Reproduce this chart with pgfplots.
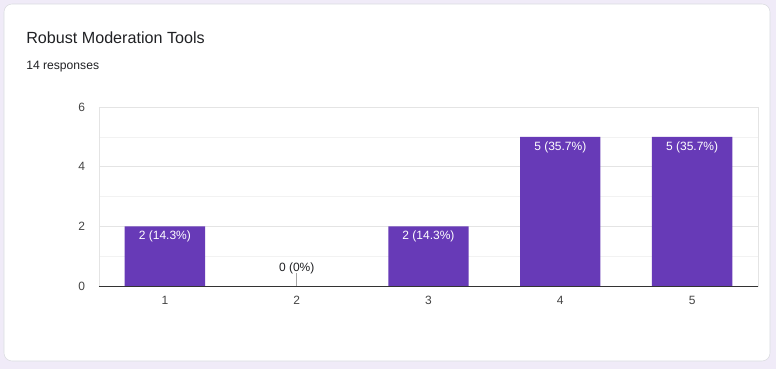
\documentclass[border=0pt]{standalone}
\usepackage{pgfplots}
\pgfplotsset{compat=1.18}
\usepackage{fontspec}
\setmainfont{Liberation Sans}
\definecolor{barc}{HTML}{673AB7}
\definecolor{pagebg}{HTML}{F0EBF8}
\definecolor{cardborder}{HTML}{DADCE0}
\definecolor{gridmaj}{HTML}{E4E4E4}
\definecolor{gridmin}{HTML}{F2F2F2}
\definecolor{ticktxt}{HTML}{444444}
\definecolor{titletxt}{HTML}{202124}
\begin{document}
\begin{tikzpicture}[x=0.75pt,y=0.75pt]
\fill[pagebg] (-99,-83) rectangle (677,286);
\useasboundingbox (-99,-83) rectangle (677,286);
\draw[cardborder, fill=white, rounded corners=6pt] (-95,-75) rectangle (671,282);
\node[anchor=base west, inner sep=0pt, font=\fontsize{12.1}{14}\selectfont, text=titletxt] at (-73,243) {Robust Moderation Tools};
\node[anchor=base west, inner sep=0pt, font=\fontsize{9.1}{11}\selectfont, text=titletxt] at (-73,217) {14 responses};
\begin{axis}[
  scale only axis, width=494.25pt, height=134.25pt,
  at={(0,0)}, anchor=south west,
  xmin=0.5, xmax=5.5, ymin=0, ymax=6,
  xtick={1,2,3,4,5}, ytick={0,2,4,6}, minor ytick={1,3,5},
  major tick length=0pt, minor tick length=0pt,
  ymajorgrids, yminorgrids,
  major grid style={gridmaj}, minor grid style={gridmin},
  axis line style={gridmaj},
  /pgf/number format/assume math mode=true,
  tick label style={font=\fontsize{9}{11}\selectfont, text=ticktxt},
  xticklabel style={yshift=-4pt},
  yticklabel style={xshift=-7pt},
  clip=false,
]
\addplot[ybar, bar width=0.61, fill=barc, draw=none,
  nodes near coords, point meta=explicit symbolic,
  every node near coord/.append style={anchor=north, inner sep=1pt, yshift=-2.5pt, text=white, font=\fontsize{9}{11}\selectfont}]
  coordinates {(1,2) [2 (14.3\%)] (3,2) [2 (14.3\%)] (4,5) [5 (35.7\%)] (5,5) [5 (35.7\%)]};
\addplot[draw=none, mark=none,
  nodes near coords, point meta=explicit symbolic,
  every node near coord/.append style={anchor=south, inner sep=1pt, yshift=8pt, text=titletxt, font=\fontsize{9}{11}\selectfont}]
  coordinates {(2,0) [0 (0\%)]};
\draw[gray!70] (axis cs:2,0) -- ++(0pt,10pt);
\draw[black!80] (rel axis cs:0,0) -- (rel axis cs:1,0);
\end{axis}
\end{tikzpicture}
\end{document}
